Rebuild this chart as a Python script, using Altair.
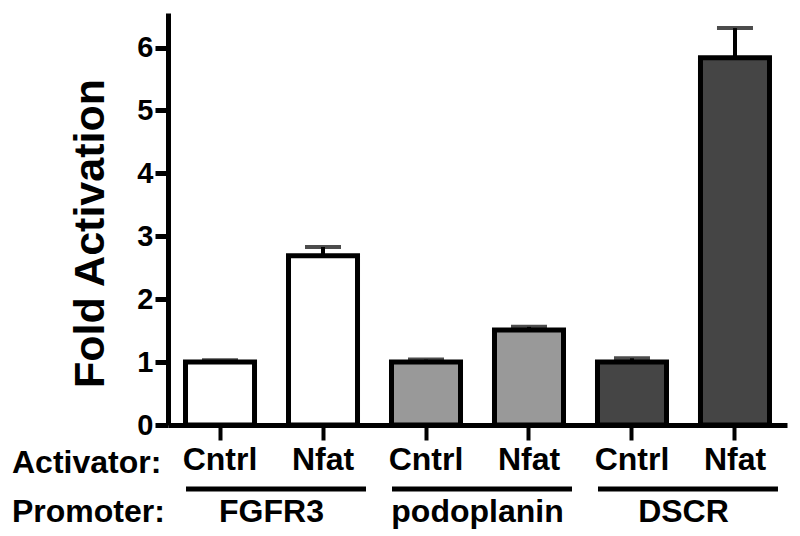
import altair as alt
import pandas as pd

promoters = ["FGFR3", "FGFR3", "podoplanin", "podoplanin", "DSCR", "DSCR"]
activators = ["Cntrl", "Nfat", "Cntrl", "Nfat", "Cntrl", "Nfat"]
fold = [1.00, 2.69, 1.00, 1.51, 1.00, 5.84]
upper = [1.03, 2.83, 1.04, 1.56, 1.06, 6.31]
fills = ["#ffffff", "#ffffff", "#999999", "#999999", "#454545", "#454545"]
group_names = ["FGFR3", "podoplanin", "DSCR"]
y_ticks = [0, 1, 2, 3, 4, 5, 6]

ids = [p + "|" + a for p, a in zip(promoters, activators)]
df = pd.DataFrame({"id": ids, "promoter": promoters, "activator": activators,
                   "fold": fold, "upper": upper, "fill": fills})
gdf = pd.DataFrame({
    "group": group_names,
    "first": [g + "|Cntrl" for g in group_names],
    "last": [g + "|Nfat" for g in group_names],
})

FONT = "Liberation Sans"
TXT = 32
xscale = alt.Scale(domain=ids, paddingInner=0.33, paddingOuter=0.17)
yscale = alt.Scale(domain=[0, 6.55], nice=False, zero=True)

xaxis = alt.Axis(title=None, labelExpr="split(datum.value, '|')[1]",
                 labelAngle=0, labelFontSize=TXT, labelFontWeight="bold",
                 labelColor="black", labelFont=FONT, tickSize=15, tickWidth=4,
                 tickColor="black", domainWidth=5, domainColor="black",
                 labelPadding=4)
yaxis = alt.Axis(values=y_ticks, title="Fold Activation", grid=False,
                 labelFontSize=29, labelFontWeight="bold", labelColor="black",
                 labelFont=FONT, labelPadding=2, tickSize=13, tickWidth=5,
                 tickColor="black", domainWidth=5, domainColor="black",
                 titleFont=FONT, titleFontSize=43, titleFontWeight="bold",
                 titleColor="black", titleAngle=270, titleX=-78, titleY=220,
                 titleAlign="center", titleBaseline="middle")


def X(field):
    return alt.X(field, scale=xscale, sort=ids, axis=xaxis)


def Y(field):
    return alt.Y(field, scale=yscale, axis=yaxis)


bars = alt.Chart(df).mark_bar(stroke="black", strokeWidth=5).encode(
    x=X("id:N"), y=Y("fold:Q"), fill=alt.Fill("fill:N", scale=None))

err_line = alt.Chart(df).mark_rule(color="black", strokeWidth=4).encode(
    x=X("id:N"), y=Y("fold:Q"), y2="upper:Q")

err_cap = alt.Chart(df).mark_tick(color="black", thickness=4, size=36).encode(
    x=X("id:N"), y=Y("upper:Q"))

group_lines = alt.Chart(gdf).mark_rule(color="black", strokeWidth=5, xOffset=-34, x2Offset=43).encode(
    x=X("first:N"), x2="last:N", y=alt.value(476))

group_text = alt.Chart(gdf).mark_text(font=FONT, fontSize=TXT, fontWeight="bold",
                                      color="black", dx=51.5, baseline="alphabetic",
                                      align="center").encode(
    x=X("first:N"), y=alt.value(509), text="group:N")

row_activator = alt.Chart(pd.DataFrame({"t": ["Activator:"]})).mark_text(
    font=FONT, fontSize=TXT, fontWeight="bold", color="black", align="left",
    baseline="alphabetic").encode(x=alt.value(-156), y=alt.value(460), text="t:N")

row_promoter = alt.Chart(pd.DataFrame({"t": ["Promoter:"]})).mark_text(
    font=FONT, fontSize=TXT, fontWeight="bold", color="black", align="left",
    baseline="alphabetic").encode(x=alt.value(-156), y=alt.value(509), text="t:N")

chart = alt.layer(bars, err_line, err_cap, group_lines, group_text,
                  row_activator, row_promoter).properties(
    width=619, height=412,
    autosize=alt.AutoSizeParams(type="none"),
    padding={"left": 160, "top": 5, "right": 5, "bottom": 110},
    background="white",
).configure_view(stroke=None)

chart.save("out.html", embed_options={"renderer": "svg", "actions": False})
